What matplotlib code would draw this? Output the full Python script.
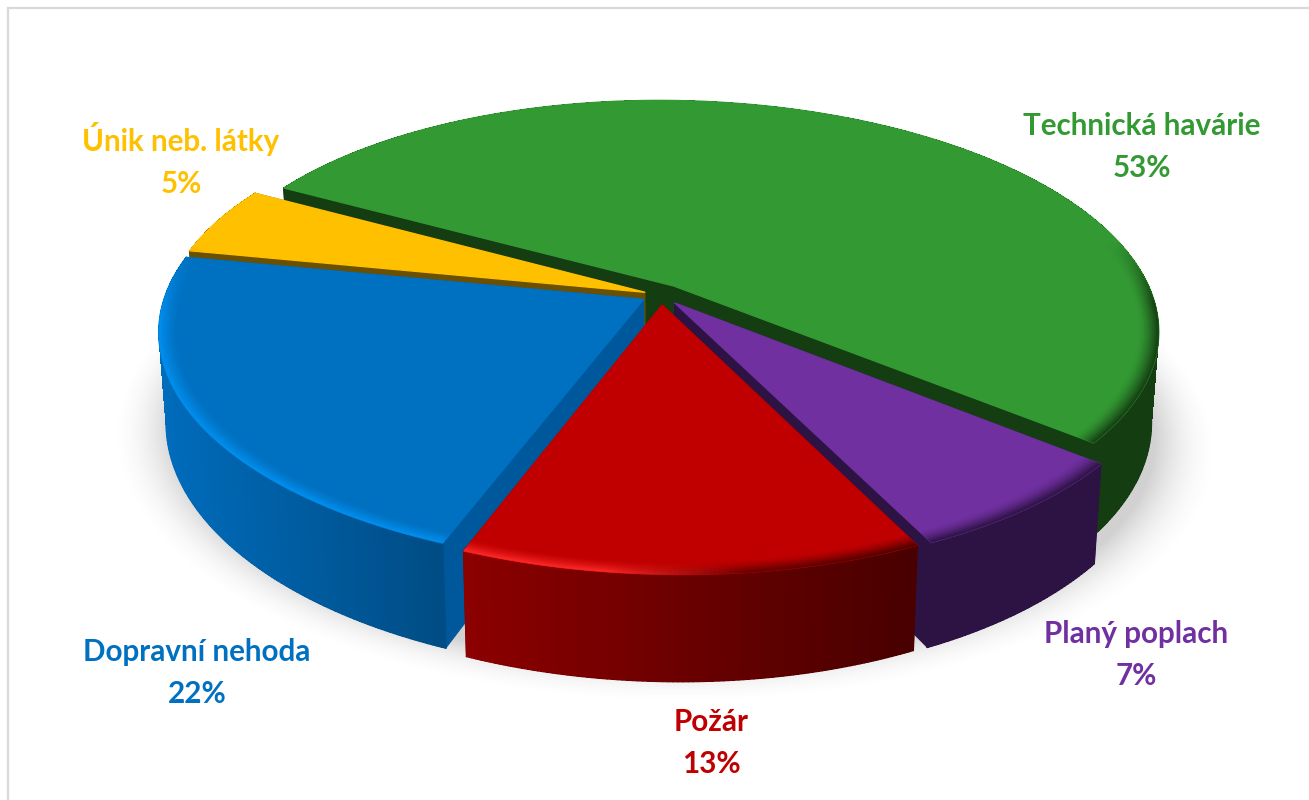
import numpy as np
import matplotlib
matplotlib.use("Agg")
import matplotlib.pyplot as plt
from matplotlib.collections import PolyCollection, LineCollection
from matplotlib.colors import to_rgb
from matplotlib.patches import Polygon

# data
categories = ["Technická havárie", "Planý poplach", "Požár", "Dopravní nehoda", "Únik neb. látky"]
values = [53, 7, 13, 22, 5]

# styles
top_colors = ["#339933", "#7030a0", "#c00000", "#0070c0", "#ffc000"]
side_left = ["#143d12", "#2d1343", "#8c0000", "#006cbc", "#6a5000"]
side_right = ["#143d12", "#2d1343", "#480000", "#004c84", "#6a5000"]
cut_colors = ["#143d12", "#2d1343", "#6a0000", "#00589c", "#6a5000"]
highlight = ["#143d12", "#2d1343", "#ff2a2a", "#0090f0", "#6a5000"]
explode = [0.05, 0.045, 0.045, 0.042, 0.036]
draw_order = [0, 4, 3, 1, 2]
label_pos = [(1142, 147), (1136, 655), (711, 743), (197, 673), (181, 160)]

# layout of the projected pie
W, Hpx = 1309, 800
CX, CY = 661, 295
RX, RY = 478, 220
K = 0.17
SHEAR = 15
DEPTH = 88
START = -60.7
BEVEL = 0.04


def project(u, v, z=0.0):
    u, v = np.asarray(u, float), np.asarray(v, float)
    w = 1 - K * v
    return CX + (RX * u + SHEAR * v) / w * (1 - 0.015 * z), CY + RY * v / w + DEPTH * z / w


def lerp(a, b, t):
    return tuple(np.array(a) * (1 - t) + np.array(b) * t)


fig = plt.figure(figsize=(W / 100, Hpx / 100), dpi=100)
ax = fig.add_axes([0, 0, 1, 1])
ax.set_xlim(0, W)
ax.set_ylim(Hpx, 0)
ax.axis("off")

# frame
ax.plot([8, 8, W], [Hpx, 8, 8], color="#d9d9d9", lw=1.6, zorder=1, solid_joinstyle="miter")

# soft shadow under the pie
gx, gy = np.meshgrid(np.arange(W), np.arange(Hpx))
sy = gy - CY - DEPTH * 1.12
vv = sy / (RY + K * sy)
uu = ((gx - CX) * (1 - K * vv) - SHEAR * vv) / RX
rr = np.hypot(uu, vv)
alpha = np.clip((1.14 - rr) / 0.13, 0, 1) ** 2 * 0.24
img = np.zeros((Hpx, W, 4))
img[..., :3] = 0.25
img[..., 3] = alpha
ax.imshow(img, extent=(0, W, Hpx, 0), zorder=2, interpolation="bilinear", aspect="auto")
ax.set_xlim(0, W)
ax.set_ylim(Hpx, 0)

# slice angles from values
total = sum(values)
sweeps = [360.0 * v / total for v in values]
starts = [START + sum(sweeps[:i]) for i in range(len(values))]

z = 3
for i in draw_order:
    a0, a1 = np.radians(starts[i]), np.radians(starts[i] + sweeps[i])
    mid = (a0 + a1) / 2
    e = explode[i]
    ou, ov = e * np.sin(mid), -e * np.cos(mid)
    th = np.linspace(a0, a1, max(int(sweeps[i] * 2), 8))
    U, V = np.sin(th), -np.cos(th)

    # cut walls
    for a in (a0, a1):
        eu = np.array([ou, ou + np.sin(a)])
        ev = np.array([ov, ov - np.cos(a)])
        x0, y0 = project(eu, ev, 0)
        x1, y1 = project(eu, ev, 1)
        ax.add_patch(Polygon(np.c_[np.r_[x0, x1[::-1]], np.r_[y0, y1[::-1]]],
                             closed=True, fc=cut_colors[i], ec=cut_colors[i], lw=0.8,
                             joinstyle="round", zorder=z))
    z += 1

    # outer wall with a horizontal colour gradient
    x0, y0 = project(ou + U, ov + V, 0)
    x1, y1 = project(ou + U, ov + V, 1)
    left, right = to_rgb(side_left[i]), to_rgb(side_right[i])
    xa, xb = x0.min(), x0.max()
    polys, cols, segs = [], [], []
    for j in range(len(th) - 1):
        polys.append([(x0[j], y0[j]), (x0[j + 1], y0[j + 1]), (x1[j + 1], y1[j + 1]), (x1[j], y1[j])])
        cols.append(lerp(left, right, (x0[j] - xa) / max(xb - xa, 1)))
        segs.append([(x1[j], y1[j]), (x1[j + 1], y1[j + 1])])
    ax.add_collection(PolyCollection(polys, facecolors=cols, edgecolors="none", linewidths=0,
                                     antialiased=False, zorder=z))
    end_segs = [[(x0[0], y0[0]), (x1[0], y1[0])], [(x0[-1], y0[-1]), (x1[-1], y1[-1])]]
    ax.add_collection(LineCollection(segs + end_segs, colors=cols + [cols[0], cols[-1]],
                                     linewidths=1.2, capstyle="round", zorder=z))
    z += 1

    # top face
    xt, yt = project(np.r_[ou, ou + U], np.r_[ov, ov + V], 0)
    ax.add_patch(Polygon(np.c_[xt, yt], closed=True, fc=top_colors[i], ec=top_colors[i],
                         lw=1.0, joinstyle="round", zorder=z))
    z += 1

    # bevel along the front rim
    top = to_rgb(top_colors[i])
    hi = to_rgb(highlight[i])
    steps = 10
    polys, cols = [], []
    for s in range(steps):
        r0 = 1 - BEVEL * (1 - s / steps)
        r1 = 1 - BEVEL * (1 - (s + 1) / steps)
        tt = (s + 0.5) / steps
        xa0, ya0 = project(ou + r0 * U, ov + r0 * V, 0)
        xa1, ya1 = project(ou + r1 * U, ov + r1 * V, 0)
        for j in range(len(th) - 1):
            strength = np.clip((V[j] + 0.22) / 0.3, 0, 1)
            if strength <= 0:
                continue
            side = lerp(left, right, (x0[j] - xa) / max(xb - xa, 1))
            hi_amount = np.clip((0.12 - U[j]) / 0.25, 0, 1)
            edge = lerp(side, hi, hi_amount)
            c = lerp(top, edge, (tt ** 1.5) * strength)
            polys.append([(xa0[j], ya0[j]), (xa0[j + 1], ya0[j + 1]), (xa1[j + 1], ya1[j + 1]), (xa1[j], ya1[j])])
            cols.append(c)
    if polys:
        ax.add_collection(PolyCollection(polys, facecolors=cols, edgecolors=cols, linewidths=0.4, zorder=z))
    z += 1

# labels
for name, val, col, (lx, ly) in zip(categories, values, top_colors, label_pos):
    ax.text(lx, ly, f"{name}\n{val}%", color=col, ha="center", va="center", family="Lato",
            fontweight="bold", fontsize=21.3, linespacing=1.57, zorder=z)

fig.savefig("out.png", dpi=100)
